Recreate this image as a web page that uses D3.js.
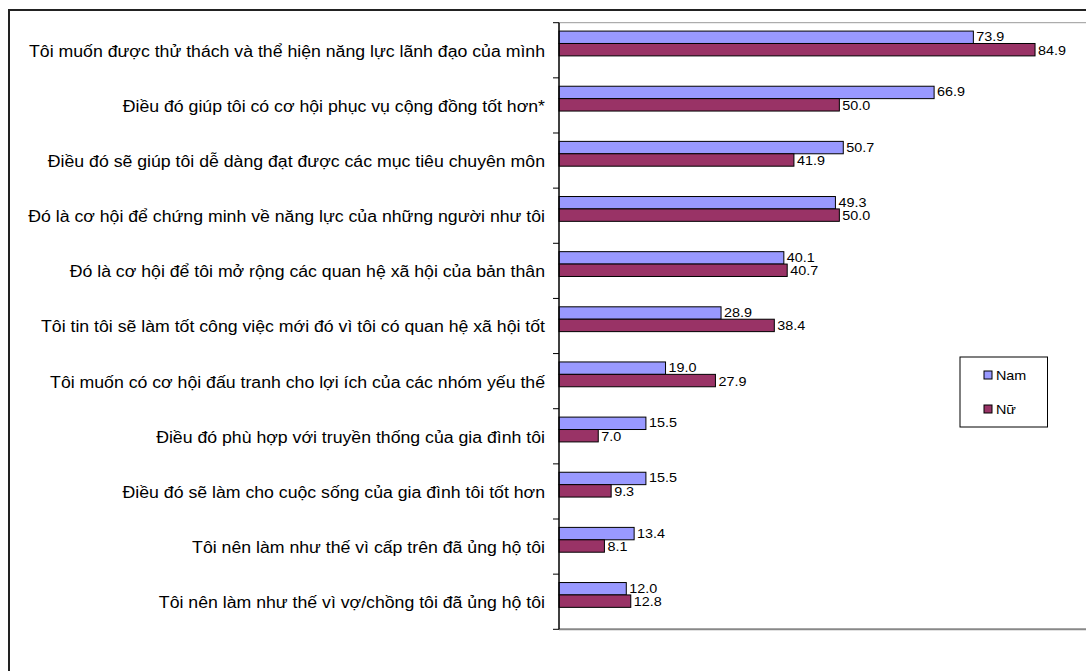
<!DOCTYPE html>
<html>
<head>
<meta charset="utf-8">
<script src="https://cdn.jsdelivr.net/npm/d3@7"></script>
<style>
  body { margin: 0; background: #fff; }
  text { font-family: "Liberation Sans", Arial, sans-serif; fill: #000; }
</style>
</head>
<body>
<div class="chart"></div>
<script>
// categories, top to bottom
var categories = [
  "Tôi muốn được thử thách và thể hiện năng lực lãnh đạo của mình",
  "Điều đó giúp tôi có cơ hội phục vụ cộng đồng tốt hơn*",
  "Điều đó sẽ giúp tôi dễ dàng đạt được các mục tiêu chuyên môn",
  "Đó là cơ hội để chứng minh về năng lực của những người như tôi",
  "Đó là cơ hội để tôi mở rộng các quan hệ xã hội của bản thân",
  "Tôi tin tôi sẽ làm tốt công việc mới đó vì tôi có quan hệ xã hội tốt",
  "Tôi muốn có cơ hội đấu tranh cho lợi ích của các nhóm yếu thế",
  "Điều đó phù hợp với truyền thống của gia đình tôi",
  "Điều đó sẽ làm cho cuộc sống của gia đình tôi tốt hơn",
  "Tôi nên làm như thế vì cấp trên đã ủng hộ tôi",
  "Tôi nên làm như thế vì vợ/chồng tôi đã ủng hộ tôi"
];
var seriesNames = ["Nam", "Nữ"];
var namValues = [73.9, 66.9, 50.7, 49.3, 40.1, 28.9, 19.0, 15.5, 15.5, 13.4, 12.0];
var nuValues  = [84.9, 50.0, 41.9, 50.0, 40.7, 38.4, 27.9, 7.0, 9.3, 8.1, 12.8];
var colors = ["#9999ff", "#993366"];

var W = 1086, H = 671;
var plot = {left: 559, top: 22.7, bottom: 629.3};
var stretch = 1.105; // the source text is a bit wider than Arial

function widen(sel) {
  sel.each(function() {
    var len = this.getComputedTextLength();
    d3.select(this)
      .attr("textLength", len * stretch)
      .attr("lengthAdjust", "spacingAndGlyphs");
  });
}

var svg = d3.select(".chart").append("svg")
    .attr("width", W)
    .attr("height", H);

// outer chart border (cropped on right and bottom)
svg.append("rect")
    .attr("x", 9).attr("y", 10)
    .attr("width", 1200).attr("height", 800)
    .attr("fill", "#fff")
    .attr("stroke", "#222")
    .attr("stroke-width", 2);

var x = d3.scaleLinear().domain([0, 100]).range([plot.left, plot.left + 560.7]);
var y = d3.scaleBand().domain(categories).range([plot.top, plot.bottom]);
var bw = y.bandwidth();

// plot area top / bottom lines
svg.append("line")
    .attr("x1", plot.left).attr("x2", W + 10)
    .attr("y1", plot.top).attr("y2", plot.top)
    .attr("stroke", "#999").attr("stroke-width", 1);
svg.append("line")
    .attr("x1", plot.left).attr("x2", W + 10)
    .attr("y1", plot.bottom).attr("y2", plot.bottom)
    .attr("stroke", "#888").attr("stroke-width", 2);

var rows = categories.map(function(c, i) {
  return {cat: c, vals: [namValues[i], nuValues[i]]};
});

// bars
var barH = bw * 0.225;
var barTop = bw * 0.152;
var g = svg.selectAll(".row").data(rows).enter().append("g")
    .attr("class", "row")
    .attr("transform", function(d) { return "translate(0," + y(d.cat) + ")"; });

g.selectAll("rect").data(function(d) { return d.vals; }).enter().append("rect")
    .attr("x", x(0))
    .attr("y", function(d, i) { return barTop + i * barH; })
    .attr("width", function(d) { return x(d) - x(0); })
    .attr("height", barH)
    .attr("fill", function(d, i) { return colors[i]; })
    .attr("stroke", "#000")
    .attr("stroke-width", 1);

g.selectAll(".val").data(function(d) { return d.vals; }).enter().append("text")
    .attr("class", "val")
    .attr("x", function(d) { return x(d) + 3; })
    .attr("y", function(d, i) { return barTop + i * barH + barH / 2 + 4.5 + (i ? 0.5 : -0.5); })
    .style("font-size", "13px")
    .text(function(d) { return d.toFixed(1); })
    .call(widen);

// category labels
g.append("text")
    .attr("x", plot.left - 14)
    .attr("y", bw / 2 + 6.5)
    .attr("text-anchor", "end")
    .style("font-size", "16px")
    .text(function(d) { return d.cat; })
    .call(widen);

// y axis line and ticks between categories
svg.append("line")
    .attr("x1", plot.left).attr("x2", plot.left)
    .attr("y1", plot.top).attr("y2", plot.bottom)
    .attr("stroke", "#000").attr("stroke-width", 1.5);
var tickYs = categories.map(function(c) { return y(c); }).concat([plot.bottom]);
svg.selectAll(".tick").data(tickYs).enter().append("line")
    .attr("x1", plot.left - 6).attr("x2", plot.left)
    .attr("y1", function(d) { return d; }).attr("y2", function(d) { return d; })
    .attr("stroke", "#000").attr("stroke-width", 1);

// legend
var lg = svg.append("g").attr("transform", "translate(960,357)");
lg.append("rect")
    .attr("width", 87.5).attr("height", 70)
    .attr("fill", "#fff").attr("stroke", "#000").attr("stroke-width", 1);
seriesNames.forEach(function(s, i) {
  lg.append("rect")
      .attr("x", 24).attr("y", 14 + i * 34)
      .attr("width", 8).attr("height", 8)
      .attr("fill", colors[i]).attr("stroke", "#000");
  lg.append("text")
      .attr("x", 36).attr("y", 23 + i * 34)
      .style("font-size", "13px")
      .text(s)
      .call(widen);
});
</script>
</body>
</html>
